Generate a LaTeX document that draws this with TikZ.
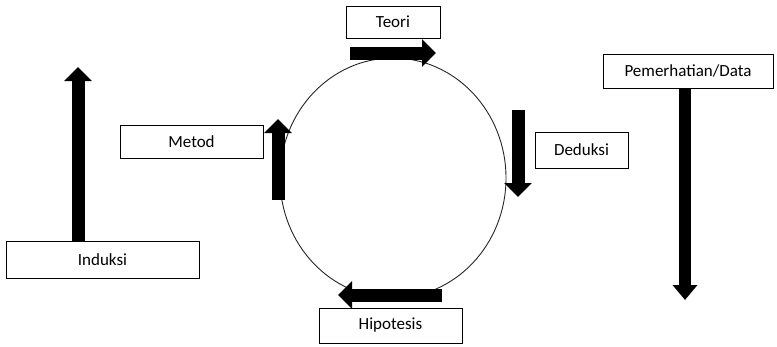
\documentclass[tikz,border=0pt]{standalone}
\usepackage{fontspec}
\setmainfont{Carlito}
\usetikzlibrary{arrows.meta}
\begin{document}
\begin{tikzpicture}[x=1pt,y=-1pt,
  box/.style={draw=black,line width=0.9pt,fill=white,inner sep=0pt,font=\fontsize{17}{20}\selectfont},
  blockarrow/.style={line width=13pt,draw=black,-{Triangle[width=27pt,length=14pt]}},
  ring/.style={draw=black!85,line width=0.9pt}]
\useasboundingbox (0,0) rectangle (777,346);
% cycle
\draw[ring] (393,178) ellipse [x radius=113, y radius=120];
% boxes
\node[box,minimum width=94pt,minimum height=32pt] (teori) at (393,22) {Teori};
\node[box,minimum width=143pt,minimum height=33pt] (metod) at (191.5,141.5) {Metod};
\node[box,minimum width=93pt,minimum height=36pt] (deduksi) at (581.5,150) {Deduksi};
\node[box,minimum width=143pt,minimum height=35pt] (hipotesis) at (390.5,325.5) {Hipotesis};
\node[box,minimum width=193pt,minimum height=37pt] (induksi) at (102.5,259.5) {Induksi};
\node[box,minimum width=170pt,minimum height=34pt] (data) at (688,71) {Pemerhatian/Data};
% arrow end points
\coordinate (teoriS) at (350,53);
\coordinate (teoriE) at (436,53);
\coordinate (metodS) at (278,200);
\coordinate (metodE) at (278,119);
\coordinate (dedS) at (518,110);
\coordinate (dedE) at (518,197);
\coordinate (hipS) at (442,295);
\coordinate (hipE) at (338,295);
\coordinate (indE) at (78,67);
\coordinate (dataE) at (685,300);
% block arrows
\draw[blockarrow] (teoriS) -- (teoriE);
\draw[blockarrow] (metodS) -- (metodE);
\draw[blockarrow] (dedS) -- (dedE);
\draw[blockarrow] (hipS) -- (hipE);
\draw[blockarrow] (induksi.north -| indE) -- (indE);
\draw[line width=12pt,draw=black,-{Triangle[width=24pt,length=15pt]}] (data.south -| dataE) -- (dataE);
\end{tikzpicture}
\end{document}
